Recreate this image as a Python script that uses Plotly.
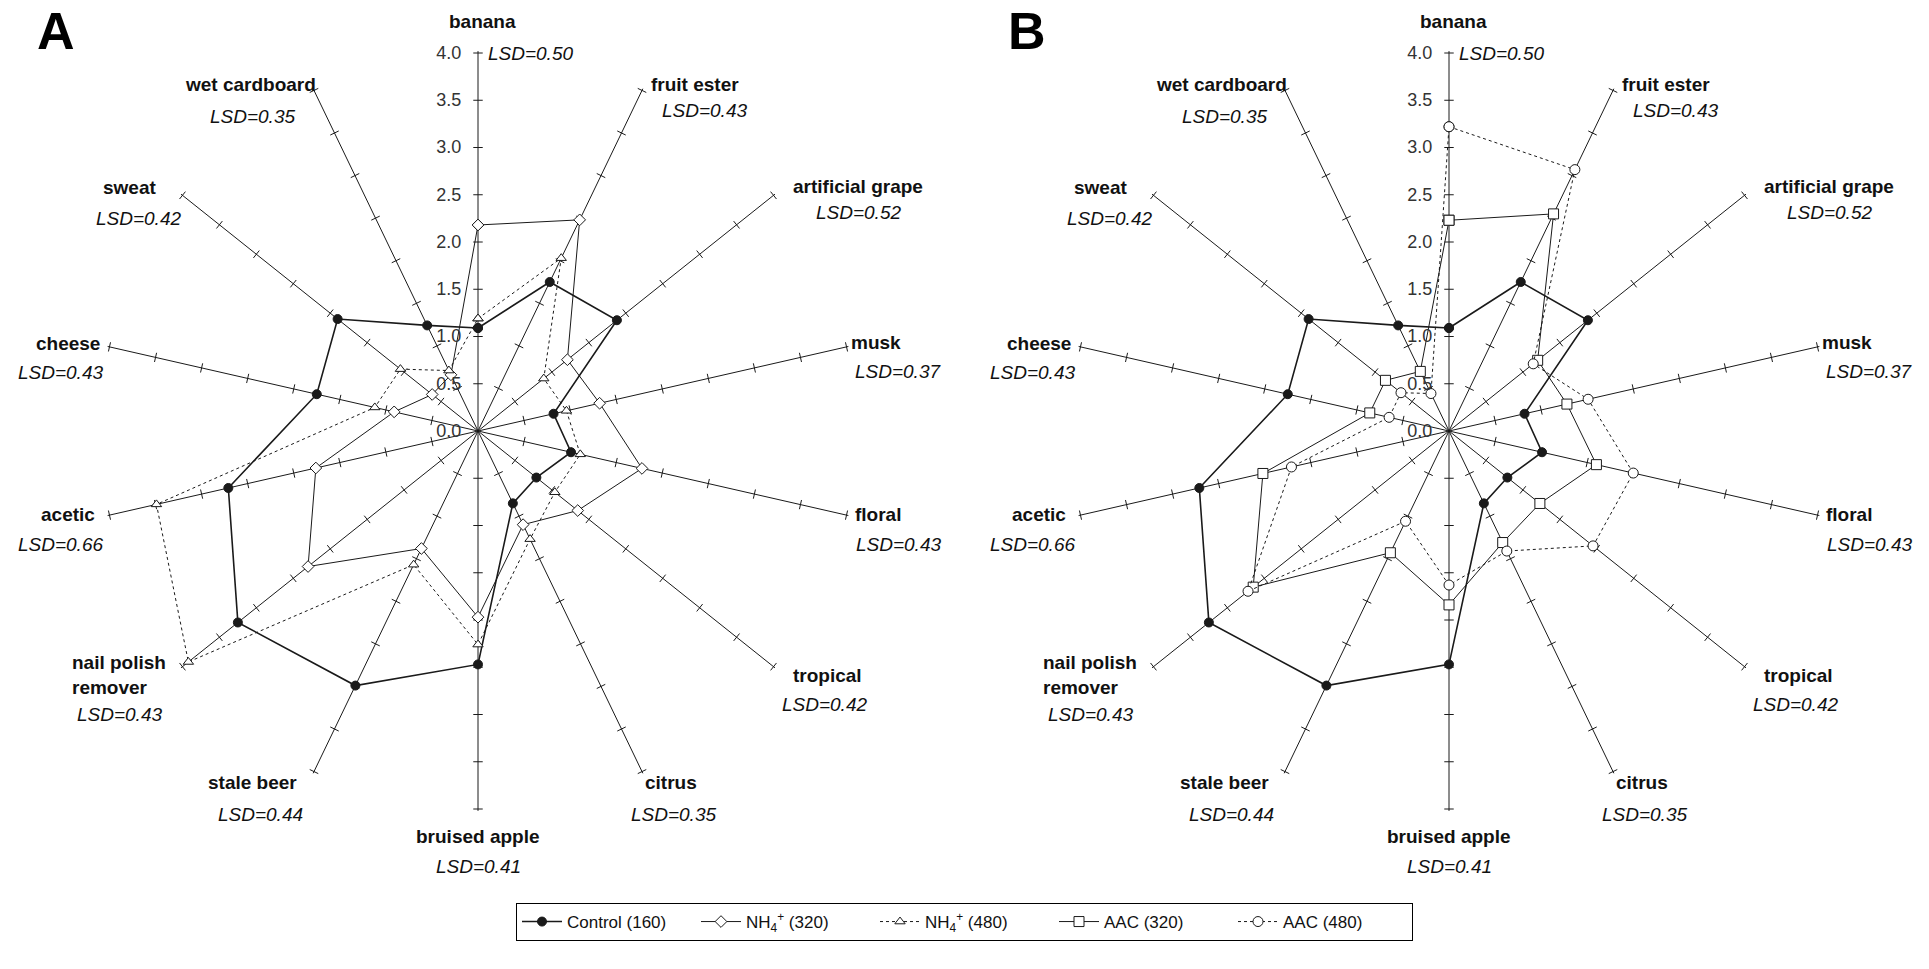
import math
import plotly.graph_objects as go

# ---------------- data ----------------
CATEGORIES = ["banana", "fruit ester", "artificial grape", "musk", "floral", "tropical",
              "citrus", "bruised apple", "stale beer", "nail polish remover", "acetic",
              "cheese", "sweat", "wet cardboard"]
LSD = [0.50, 0.43, 0.52, 0.37, 0.43, 0.42, 0.35, 0.41, 0.44, 0.43, 0.66, 0.43, 0.42, 0.35]

CONTROL_160 = [1.09, 1.75, 1.88, 0.82, 1.01, 0.79, 0.85, 2.47, 2.99, 3.25, 2.71, 1.75, 1.90, 1.24]
NH4_320 = [2.18, 2.48, 1.21, 1.32, 1.78, 1.35, 1.10, 1.97, 1.38, 2.30, 1.76, 0.91, 0.62, 0.66]
NH4_480 = [1.19, 2.03, 0.89, 0.96, 1.11, 1.04, 1.27, 2.26, 1.57, 3.92, 3.49, 1.12, 1.05, 0.71]
AAC_320 = [2.23, 2.55, 1.20, 1.28, 1.60, 1.23, 1.31, 1.84, 1.43, 2.65, 2.02, 0.86, 0.86, 0.70]
AAC_480 = [3.22, 3.07, 1.14, 1.51, 2.00, 1.95, 1.41, 1.63, 1.06, 2.72, 1.71, 0.65, 0.65, 0.44]

RADIAL_TICKS = [0.0, 0.5, 1.0, 1.5, 2.0, 2.5, 3.0, 3.5, 4.0]
RADIAL_TICK_LABELS = ["0.0", "0.5", "1.0", "1.5", "2.0", "2.5", "3.0", "3.5", "4.0"]

# ---------------- layout geometry ----------------
W, H = 1929, 969
RMAX = 4.02
R_PX = 378 * RMAX / 4.0
CENTERS = {"polar": (478, 431), "polar2": (1449, 431)}
FONT = "Liberation Sans, Arial, sans-serif"
INK = "#1a1a1a"
LABEL_SIZE = 19

N = len(CATEGORIES)
THETA = [i * 360.0 / N for i in range(N)]
THETA_CLOSED = THETA + [THETA[0]]

# label offsets (px) from the polar centre: (name), (LSD)
NAME_POS = [(4, -409), (217, -347), (380, -244), (398, -89), (400, 83), (349, 244),
            (193, 351), (0, 405), (-225, 351), (-408, 244), (-410, 83), (-410, -88),
            (-349, -243), (-228, -347)]
LSD_POS = [(52, -377), (226, -320), (380, -218), (420, -60), (420, 113), (346, 273),
           (195, 383), (0, 435), (-218, 383), (-359, 283), (-417, 113), (-417, -58),
           (-340, -212), (-225, -315)]


def closed(vals):
    return list(vals) + [vals[0]]


def tick_segments(half_len=0.05):
    r, t = [], []
    for th in THETA:
        for v in RADIAL_TICKS[1:]:
            rr = math.hypot(v, half_len)
            dth = math.degrees(math.atan2(half_len, v))
            r += [rr, rr, None]
            t += [th - dth, th + dth, None]
    return r, t


fig = go.Figure()

for sub in ["polar", "polar2"]:
    tr, tt = tick_segments()
    fig.add_trace(go.Scatterpolar(r=tr, theta=tt, mode="lines", subplot=sub,
                                  line=dict(color=INK, width=1), showlegend=False,
                                  hoverinfo="skip"))

series = [
    ("Control (160)", CONTROL_160, "polar", dict(symbol="circle", size=9, color=INK,
                                                  line=dict(color=INK, width=1)), "solid", 1.6, True),
    ("NH<sub>4</sub><sup>+</sup> (320)", NH4_320, "polar", dict(symbol="diamond", size=9, color="white",
                                                              line=dict(color=INK, width=1)), "solid", 1.0, True),
    ("NH<sub>4</sub><sup>+</sup> (480)", NH4_480, "polar", dict(symbol="triangle-up", size=9, color="white",
                                                              line=dict(color=INK, width=1)), "dot", 1.0, True),
    ("Control (160)", CONTROL_160, "polar2", dict(symbol="circle", size=9, color=INK,
                                                   line=dict(color=INK, width=1)), "solid", 1.6, False),
    ("AAC (320)", AAC_320, "polar2", dict(symbol="square", size=10, color="white",
                                          line=dict(color=INK, width=1)), "solid", 1.0, True),
    ("AAC (480)", AAC_480, "polar2", dict(symbol="circle", size=10, color="white",
                                          line=dict(color=INK, width=1)), "dot", 1.0, True),
]
for name, vals, sub, marker, dash, lw, show in series:
    fig.add_trace(go.Scatterpolar(r=closed(vals), theta=THETA_CLOSED, mode="lines+markers",
                                  name=name, subplot=sub, marker=marker,
                                  line=dict(color=INK, width=lw, dash=dash),
                                  showlegend=show, hoverinfo="skip"))


def polar_layout(center):
    cx, cy = center
    return dict(
        domain=dict(x=[(cx - R_PX) / W, (cx + R_PX) / W],
                    y=[1 - (cy + R_PX) / H, 1 - (cy - R_PX) / H]),
        bgcolor="white",
        radialaxis=dict(range=[0, RMAX], angle=90, side="counterclockwise",
                        showline=False, showgrid=False,
                        ticks="outside", ticklen=10, tickcolor="rgba(0,0,0,0)",
                        tickmode="array", tickvals=RADIAL_TICKS, ticktext=RADIAL_TICK_LABELS,
                        tickfont=dict(family=FONT, size=18, color="#333333"), tickangle=90),
        angularaxis=dict(type="linear", thetaunit="degrees", rotation=90, direction="clockwise",
                         tickmode="array", tickvals=THETA, showticklabels=False, ticks="",
                         showgrid=True, gridcolor=INK, gridwidth=1, showline=False),
    )


annotations = []
for sub, (cx, cy) in CENTERS.items():
    for i, cat in enumerate(CATEGORIES):
        nx, ny = NAME_POS[i]
        lx, ly = LSD_POS[i]
        txt = cat
        anchor = "center"
        if cat == "nail polish remover":
            txt = "nail polish<br>remover"
            anchor = "left"
        annotations.append(dict(x=(cx + nx) / W, y=1 - (cy + ny) / H, xref="paper", yref="paper",
                                xanchor=anchor, yanchor="middle",
                                text="<b>%s</b>" % txt, showarrow=False, align="left",
                                font=dict(family=FONT, size=LABEL_SIZE, color="#111111")))
        annotations.append(dict(x=(cx + lx) / W, y=1 - (cy + ly) / H, xref="paper", yref="paper",
                                xanchor="center", yanchor="middle",
                                text="<i>LSD=%.2f</i>" % LSD[i], showarrow=False,
                                font=dict(family=FONT, size=LABEL_SIZE, color="#111111")))

annotations.append(dict(x=56 / W, y=1 - 31 / H, xref="paper", yref="paper", text="<b>A</b>",
                        xanchor="center", yanchor="middle",
                        showarrow=False, font=dict(family=FONT, size=52, color="black")))
annotations.append(dict(x=1027 / W, y=1 - 31 / H, xref="paper", yref="paper", text="<b>B</b>",
                        xanchor="center", yanchor="middle",
                        showarrow=False, font=dict(family=FONT, size=52, color="black")))

fig.update_layout(
    width=W, height=H,
    margin=dict(l=0, r=0, t=0, b=0),
    paper_bgcolor="white",
    polar=polar_layout(CENTERS["polar"]),
    polar2=polar_layout(CENTERS["polar2"]),
    annotations=annotations,
    showlegend=True,
    legend=dict(orientation="h", x=0.5, xanchor="center", y=1 - 922 / H, yanchor="middle",
                bordercolor="black", borderwidth=1, bgcolor="white",
                font=dict(family=FONT, size=17, color="#111111"),
                entrywidth=124, entrywidthmode="pixels", itemwidth=40),
)

fig.write_html("out.html", post_script="document.body.style.margin='0';",
               config={"displayModeBar": False})
